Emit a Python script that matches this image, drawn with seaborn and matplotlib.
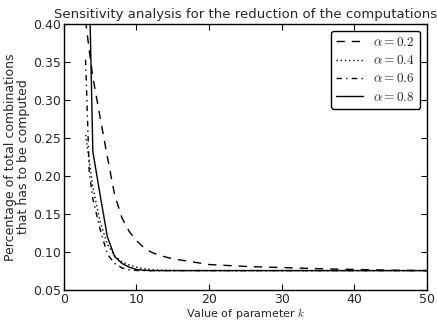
import matplotlib
matplotlib.use("Agg")
import matplotlib.pyplot as plt
import seaborn as sns

# values of parameter k (shared by all curves)
k_values = [3, 3.5, 4, 5, 6, 7, 8, 9, 10, 11, 12, 13, 15, 20, 25, 30, 35, 40, 45, 50]

# share of total combinations that has to be computed, per alpha
pct_a02 = [0.405, 0.365, 0.330, 0.277, 0.225, 0.175, 0.145, 0.127, 0.115, 0.106,
           0.100, 0.096, 0.091, 0.0835, 0.081, 0.0795, 0.078, 0.077, 0.076, 0.0755]
pct_a04 = [0.254, 0.220, 0.185, 0.140, 0.110, 0.095, 0.087, 0.083, 0.080, 0.078,
           0.077, 0.0762, 0.0757, 0.0755, 0.0755, 0.0755, 0.0755, 0.0755, 0.0755, 0.0755]
pct_a06 = [0.353, 0.205, 0.170, 0.130, 0.097, 0.085, 0.079, 0.0765, 0.0757, 0.0755,
           0.0755, 0.0755, 0.0755, 0.0755, 0.0755, 0.0755, 0.0755, 0.0755, 0.0755, 0.0755]
pct_a08 = [0.680, 0.456, 0.232, 0.175, 0.120, 0.094, 0.085, 0.080, 0.077, 0.076,
           0.0755, 0.0755, 0.0755, 0.0755, 0.0755, 0.0755, 0.0755, 0.0755, 0.0755, 0.0755]

series = [
    (pct_a02, r"$\alpha=0.2$", (0, (6, 5))),
    (pct_a04, r"$\alpha=0.4$", (0, (1, 2))),
    (pct_a06, r"$\alpha=0.6$", (0, (4, 3, 1, 3))),
    (pct_a08, r"$\alpha=0.8$", "-"),
]

sns.set_style("ticks", {"xtick.direction": "in", "ytick.direction": "in"})
plt.rcParams["font.family"] = ["DejaVu Sans"]
plt.rcParams["mathtext.fontset"] = "cm"

fig, ax = plt.subplots(figsize=(4.37, 3.24), dpi=100)
fig.subplots_adjust(left=0.146, right=0.977, top=0.926, bottom=0.105)

for vals, label, ls in series:
    sns.lineplot(x=k_values, y=vals, ax=ax, color="black", linestyle=ls,
                 linewidth=1.0, label=label)

ax.set_xlim(0, 50)
ax.set_ylim(0.05, 0.40)
ax.set_xticks([0, 10, 20, 30, 40, 50])
ax.set_yticks([0.05, 0.10, 0.15, 0.20, 0.25, 0.30, 0.35, 0.40])
ax.tick_params(axis="both", which="both", direction="in", top=True, right=True,
               length=4, width=0.8, labelsize=9, color="black", pad=2)
for side in ax.spines.values():
    side.set_color("black")
    side.set_linewidth(1.0)

ax.set_title("Sensitivity analysis for the reduction of the computations",
             fontsize=9.5, pad=4)
ax.set_xlabel("Value of parameter $k$", fontsize=8, labelpad=0)
ax.set_ylabel("Percentage of total combinations\nthat has to be computed",
              fontsize=9, labelpad=2, linespacing=1.0)

leg = ax.legend(loc="upper right", fontsize=9.5, frameon=True, fancybox=True,
                handlelength=2.0, labelspacing=0.4, borderpad=0.4)
leg.get_frame().set_edgecolor("black")
leg.get_frame().set_alpha(1.0)

plt.savefig("out.png", dpi=100)
